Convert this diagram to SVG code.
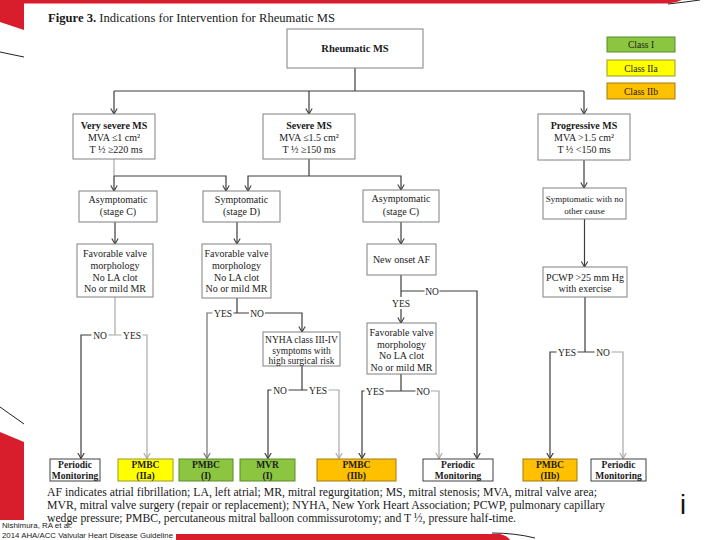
<svg xmlns="http://www.w3.org/2000/svg" width="720" height="540" viewBox="0 0 720 540">
<defs>
<style>
text{font-family:"Liberation Serif","Times New Roman",serif;fill:#1a1a1a}
.t{font-size:10px;text-anchor:middle}
.s{font-size:9.5px;text-anchor:middle}
.b{font-weight:bold}
.o9{font-size:9.5px}
.lb{font-size:9.5px;text-anchor:middle}
.bx{fill:#fff;stroke:#808080;stroke-width:1}
.pm{fill:#fff;stroke:#404040;stroke-width:1}
.g{fill:#8CC641;stroke:#5d8a2c;stroke-width:1}
.y{fill:#FFFF00;stroke:#9a9a20;stroke-width:1}
.o{fill:#FFC000;stroke:#a07a10;stroke-width:1}
.d{fill:none;stroke:#3c3c3c;stroke-width:1.2}
.m{fill:none;stroke:#707070;stroke-width:1.2}
.l{fill:none;stroke:#a8a8a8;stroke-width:1.2}
.ad{marker-end:url(#ad)}
.al{marker-end:url(#al)}
.am{marker-end:url(#am)}
</style>
<marker id="ad" viewBox="0 -4 6 8" refX="5.6" refY="0" markerWidth="6" markerHeight="8" markerUnits="userSpaceOnUse" orient="auto"><path d="M0,-3.2 L5.6,0 L0,3.2" fill="none" stroke="#3c3c3c" stroke-width="1.1"/></marker>
<marker id="am" viewBox="0 -4 6 8" refX="5.6" refY="0" markerWidth="6" markerHeight="8" markerUnits="userSpaceOnUse" orient="auto"><path d="M0,-3.2 L5.6,0 L0,3.2" fill="none" stroke="#707070" stroke-width="1.1"/></marker>
<marker id="al" viewBox="0 -4 6 8" refX="5.6" refY="0" markerWidth="6" markerHeight="8" markerUnits="userSpaceOnUse" orient="auto"><path d="M0,-3.2 L5.6,0 L0,3.2" fill="none" stroke="#a8a8a8" stroke-width="1.1"/></marker>
</defs>
<rect x="0" y="0" width="720" height="540" fill="#fff"/>
<g id="decoration">
<path d="M0,0 H24 V30 L0,22 Z" fill="#d81e2c"/>
<path d="M24,0 H682 Q676,3 668,3.5 H24 Z" fill="#d81e2c"/>
<path d="M668,4 Q686,2 700,0" fill="none" stroke="#222" stroke-width="1"/>
<path d="M0,52 L24,57" stroke="#222" stroke-width="1"/>
<path d="M0,407 L24,424" stroke="#222" stroke-width="1"/>
<path d="M0,432 L24,442 V520 H0 Z" fill="#d81e2c"/>
<path d="M176,534 H500 Q508,536 510,540 H176 Z" fill="#d81e2c"/>
<path d="M492,533 Q515,533 535,538" fill="none" stroke="#222" stroke-width="1"/>
<text x="680" y="514" style="font-family:'Liberation Sans',Arial,sans-serif;font-size:27px;fill:#111">i</text>
</g>
<text x="48" y="21.5" style="font-size:13px" textLength="287" lengthAdjust="spacingAndGlyphs"><tspan font-weight="bold">Figure 3.</tspan> Indications for Intervention for Rheumatic MS</text>
<g id="connectors">
<path class="d" d="M355,68 V91 M114,91 H584"/>
<path class="d ad" d="M114,91 V114"/>
<path class="d ad" d="M309,91 V114"/>
<path class="d ad" d="M584,91 V114"/>
<path class="l" d="M114,159 V176"/>
<path class="d ad" d="M114,176 V191"/>
<path class="d ad" d="M114,176 H226 V191"/>
<path class="d" d="M309,159 V176"/>
<path class="d ad" d="M309,176 H248 V191"/>
<path class="d ad" d="M309,176 H401 V190"/>
<path class="d ad" d="M584,160 V188"/>
<path class="d ad" d="M115,222 V244"/>
<path class="d ad" d="M237,222 V244"/>
<path class="d ad" d="M401,222 V244"/>
<path class="d ad" d="M584.5,219 V267"/>
<path class="l" d="M115,297 V335 M108.5,335 H121.5"/>
<path class="d ad" d="M91.5,335 H81 V458.5"/>
<path class="l al" d="M142.5,335 H147 V458.5"/>
<path class="d" d="M237,298 V313 M233.5,313 H249"/>
<path class="m am" d="M212.5,313 H207 V458.5"/>
<path class="d ad" d="M265,313 H302 V332"/>
<path class="d" d="M302,366 V390 M288.5,390 H307.5"/>
<path class="d ad" d="M271.5,390 H268 V458.5"/>
<path class="l al" d="M328.5,390 H339 V458.5"/>
<path class="d" d="M401,275 V297 M401,291 H424.5"/>
<path class="d ad" d="M439.5,291 H477 V458.5"/>
<path class="d ad" d="M401,309 V323"/>
<path class="d" d="M401,374 V391 M385.5,391 H415.5"/>
<path class="d ad" d="M364.5,391 H362 V458.5"/>
<path class="l al" d="M431,391 H439 V458.5"/>
<path class="d" d="M585,297 V352 M577.5,352 H594.5"/>
<path class="d ad" d="M556.5,352 H550 V458.5"/>
<path class="l al" d="M611.5,352 H623 V458.5"/>
<text class="lb" x="100" y="338.5">NO</text>
<text class="lb" x="132" y="338.5">YES</text>
<text class="lb" x="223" y="316.5">YES</text>
<text class="lb" x="257" y="316.5">NO</text>
<text class="lb" x="280" y="393.5">NO</text>
<text class="lb" x="318" y="393.5">YES</text>
<text class="lb" x="432" y="294.5">NO</text>
<text class="lb" x="401" y="306.5">YES</text>
<text class="lb" x="375" y="394.5">YES</text>
<text class="lb" x="423" y="394.5">NO</text>
<text class="lb" x="567" y="355.5">YES</text>
<text class="lb" x="603" y="355.5">NO</text>
</g>
<g id="rheumatic"><rect class="bx" x="287" y="29" width="136" height="39"/><text class="t b" x="355" y="52" style="font-size:10.5px">Rheumatic MS</text></g>
<g id="legend-1"><rect class="g" x="607" y="37" width="68" height="15"/><text class="t o9" x="641" y="47.5">Class I</text></g>
<g id="legend-2a"><rect class="y" x="607" y="60" width="68" height="16"/><text class="t o9" x="641" y="71.5">Class IIa</text></g>
<g id="legend-2b"><rect class="o" x="607" y="83" width="68" height="16"/><text class="t o9" x="641" y="94.5">Class IIb</text></g>
<g id="very-severe"><rect class="bx" x="73" y="114" width="82" height="45"/><text class="t b" x="114" y="129">Very severe MS</text><text class="t" x="114" y="141">MVA ≤1 cm²</text><text class="t" x="116" y="152.5">T ½ ≥220 ms</text></g>
<g id="severe"><rect class="bx" x="263" y="114" width="92" height="45"/><text class="t b" x="309" y="129">Severe MS</text><text class="t" x="309" y="141">MVA ≤1.5 cm²</text><text class="t" x="309" y="152.5">T ½ ≥150 ms</text></g>
<g id="progressive"><rect class="bx" x="538" y="114" width="92" height="46"/><text class="t b" x="584" y="129">Progressive MS</text><text class="t" x="584" y="141">MVA &gt;1.5 cm²</text><text class="t" x="584" y="152.5">T ½ &lt;150 ms</text></g>
<g id="asym-c-left"><rect class="bx" x="79" y="191" width="78" height="31"/><text class="t" x="118" y="202.5">Asymptomatic</text><text class="t" x="118" y="215">(stage C)</text></g>
<g id="sym-d"><rect class="bx" x="203" y="191" width="77" height="31"/><text class="t" x="241.5" y="202.5">Symptomatic</text><text class="t" x="241.5" y="215">(stage D)</text></g>
<g id="asym-c-right"><rect class="bx" x="363" y="190" width="76" height="32"/><text class="t" x="401" y="202">Asymptomatic</text><text class="t" x="401" y="214.5">(stage C)</text></g>
<g id="sym-no-cause"><rect class="bx" x="543" y="188" width="83" height="31"/><text class="s" x="584.5" y="202" style="font-size:9px">Symptomatic with no</text><text class="s" x="584.5" y="213.5" style="font-size:9px">other cause</text></g>
<g id="fav-left"><rect class="bx" x="77" y="244" width="76" height="53"/><text class="t" x="115" y="256.5">Favorable valve</text><text class="t" x="115" y="268.5">morphology</text><text class="t" x="115" y="280.5">No LA clot</text><text class="t" x="115" y="292">No or mild MR</text></g>
<g id="fav-mid"><rect class="bx" x="202" y="244" width="69" height="54"/><text class="t" x="236.5" y="256.5">Favorable valve</text><text class="t" x="236.5" y="268.5">morphology</text><text class="t" x="236.5" y="280.5">No LA clot</text><text class="t" x="236.5" y="292">No or mild MR</text></g>
<g id="new-af"><rect class="bx" x="367" y="244" width="69" height="31"/><text class="t" x="401.5" y="263">New onset AF</text></g>
<g id="pcwp"><rect class="bx" x="543" y="267" width="84" height="30"/><text class="t" x="585" y="280.5">PCWP &gt;25 mm Hg</text><text class="t" x="585" y="291.5">with exercise</text></g>
<g id="nyha"><rect class="bx" x="263" y="332" width="77" height="34"/><text class="s" x="301.5" y="342.5">NYHA class III-IV</text><text class="s" x="301.5" y="353.5">symptoms with</text><text class="s" x="301.5" y="364">high  surgical risk</text></g>
<g id="fav-right"><rect class="bx" x="367" y="323" width="69" height="51"/><text class="t" x="401.5" y="336">Favorable valve</text><text class="t" x="401.5" y="347.5">morphology</text><text class="t" x="401.5" y="359">No LA clot</text><text class="t" x="401.5" y="370.5">No or mild MR</text></g>
<g id="out-pm1"><rect class="pm" x="50" y="459" width="50" height="22"/><text class="t b o9" x="75" y="468">Periodic</text><text class="t b o9" x="75" y="479">Monitoring</text></g>
<g id="out-pmbc-iia"><rect class="y" x="118" y="459" width="55" height="22"/><text class="t b o9" x="145.5" y="468">PMBC</text><text class="t b o9" x="145.5" y="479">(IIa)</text></g>
<g id="out-pmbc-i"><rect class="g" x="179" y="459" width="54" height="22"/><text class="t b o9" x="206" y="468">PMBC</text><text class="t b o9" x="206" y="479">(I)</text></g>
<g id="out-mvr"><rect class="g" x="240" y="459" width="55" height="22"/><text class="t b o9" x="267.5" y="468">MVR</text><text class="t b o9" x="267.5" y="479">(I)</text></g>
<g id="out-pmbc-iib1"><rect class="o" x="317" y="459" width="79" height="22"/><text class="t b o9" x="356.5" y="468">PMBC</text><text class="t b o9" x="356.5" y="479">(IIb)</text></g>
<g id="out-pm2"><rect class="pm" x="423" y="459" width="70" height="22"/><text class="t b o9" x="458" y="468">Periodic</text><text class="t b o9" x="458" y="479">Monitoring</text></g>
<g id="out-pmbc-iib2"><rect class="o" x="523" y="459" width="54" height="22"/><text class="t b o9" x="550" y="468">PMBC</text><text class="t b o9" x="550" y="479">(IIb)</text></g>
<g id="out-pm3"><rect class="pm" x="591" y="459" width="55" height="22"/><text class="t b o9" x="618.5" y="468">Periodic</text><text class="t b o9" x="618.5" y="479">Monitoring</text></g>
<g id="caption" style="font-size:11.5px">
<text x="47" y="496" textLength="550" lengthAdjust="spacingAndGlyphs">AF indicates atrial fibrillation; LA, left atrial; MR, mitral regurgitation; MS, mitral stenosis; MVA, mitral valve area;</text>
<text x="47" y="509" textLength="558" lengthAdjust="spacingAndGlyphs">MVR, mitral valve surgery (repair or replacement); NYHA, New York Heart Association; PCWP, pulmonary capillary</text>
<text x="47" y="522" textLength="469" lengthAdjust="spacingAndGlyphs">wedge pressure; PMBC, percutaneous mitral balloon commissurotomy; and T ½, pressure half-time.</text>
</g>
<g id="source" style="font-family:'Liberation Sans',Arial,sans-serif;font-size:7px">
<text x="2" y="528" style="font-family:'Liberation Sans',Arial,sans-serif" textLength="70" lengthAdjust="spacingAndGlyphs">Nishimura, RA et al.</text>
<text x="2" y="538" style="font-family:'Liberation Sans',Arial,sans-serif" textLength="171" lengthAdjust="spacingAndGlyphs">2014 AHA/ACC Valvular Heart Disease Guideline</text>
</g>
</svg>
